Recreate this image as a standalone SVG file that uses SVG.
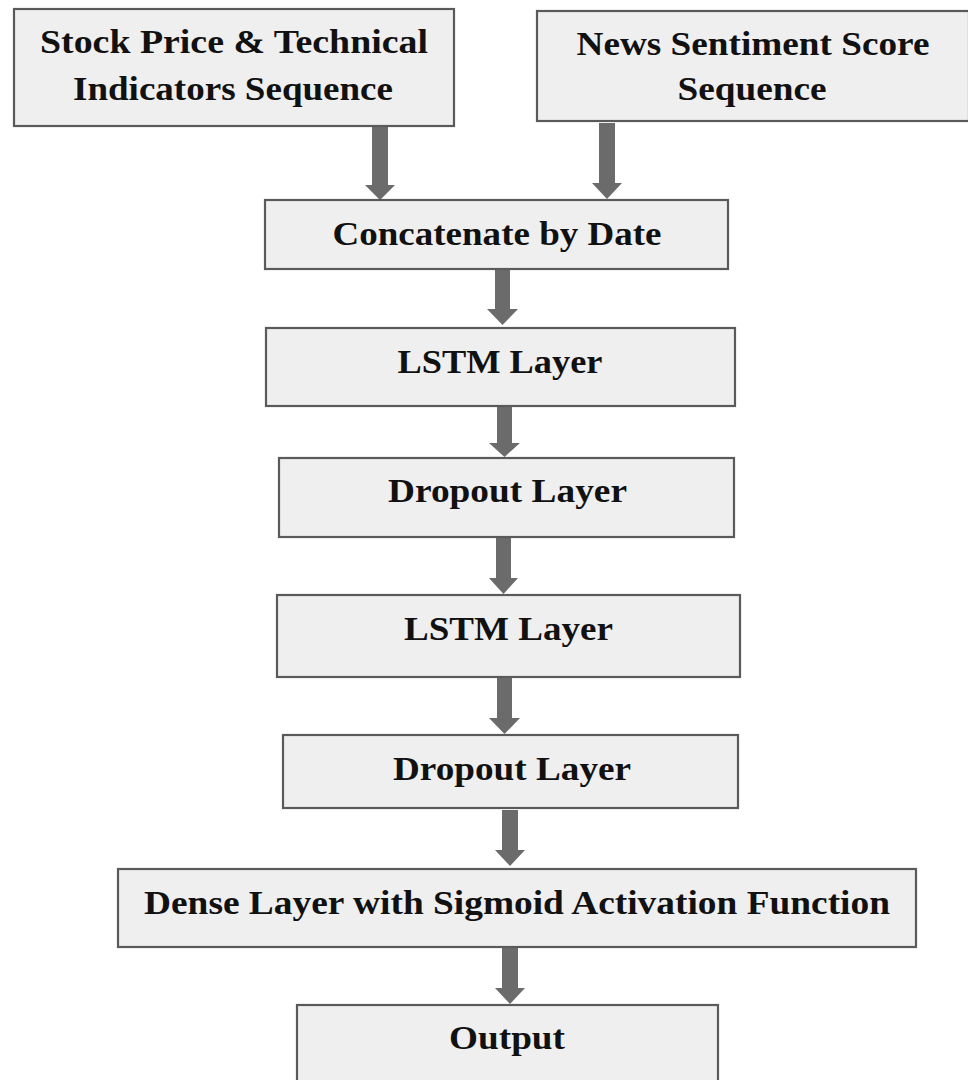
<svg xmlns="http://www.w3.org/2000/svg" width="968" height="1080" viewBox="0 0 968 1080">
<style>
.box{fill:#efefef;stroke:#5a5a5a;stroke-width:2.2}
.t{font-family:"Liberation Serif","Times New Roman",serif;font-weight:bold;font-size:34px;fill:#111;text-anchor:middle}
.arr{fill:#6b6b6b}
</style>
<rect width="968" height="1080" fill="#ffffff"/>
<g id="connectors">
<polygon class="arr" points="372,127 388,127 388,185 395,185 380,200 365,185 372,185"/>
<polygon class="arr" points="599,123 615,123 615,183 622,183 607,199 592,183 599,183"/>
<polygon class="arr" points="495,269 510,269 510,309 518,309 502.5,325 487,309 495,309"/>
<polygon class="arr" points="497,407 512,407 512,443 520,443 504.5,457 489,443 497,443"/>
<polygon class="arr" points="496,538 511,538 511,578 518,578 503.5,594 489,578 496,578"/>
<polygon class="arr" points="497,678 512,678 512,718 520,718 504.5,734 489,718 497,718"/>
<polygon class="arr" points="502,810 518,810 518,850 525,850 510,866 495,850 502,850"/>
<polygon class="arr" points="502,948 518,948 518,988 525,988 510,1004 495,988 502,988"/>
</g>
<g id="n_stock">
<rect class="box" x="14" y="9" width="440" height="117"/>
<text class="t" x="234" y="53" textLength="388" lengthAdjust="spacingAndGlyphs">Stock Price &amp; Technical</text>
<text class="t" x="233" y="100" textLength="320" lengthAdjust="spacingAndGlyphs">Indicators Sequence</text>
</g>
<g id="n_news">
<rect class="box" x="537" y="11" width="432" height="110"/>
<text class="t" x="753" y="55" textLength="353" lengthAdjust="spacingAndGlyphs">News Sentiment Score</text>
<text class="t" x="752" y="100" textLength="149" lengthAdjust="spacingAndGlyphs">Sequence</text>
</g>
<g id="n_concat">
<rect class="box" x="265" y="200" width="463" height="69"/>
<text class="t" x="497" y="245" textLength="329" lengthAdjust="spacingAndGlyphs">Concatenate by Date</text>
</g>
<g id="n_lstm1">
<rect class="box" x="266" y="328" width="469" height="78"/>
<text class="t" x="500" y="373" textLength="205" lengthAdjust="spacingAndGlyphs">LSTM Layer</text>
</g>
<g id="n_drop1">
<rect class="box" x="279" y="458" width="455" height="79"/>
<text class="t" x="507.5" y="502" textLength="239" lengthAdjust="spacingAndGlyphs">Dropout Layer</text>
</g>
<g id="n_lstm2">
<rect class="box" x="277" y="595" width="463" height="82"/>
<text class="t" x="508.5" y="640" textLength="209" lengthAdjust="spacingAndGlyphs">LSTM Layer</text>
</g>
<g id="n_drop2">
<rect class="box" x="283" y="735" width="455" height="73"/>
<text class="t" x="512" y="780" textLength="238" lengthAdjust="spacingAndGlyphs">Dropout Layer</text>
</g>
<g id="n_dense">
<rect class="box" x="118" y="869" width="798" height="78"/>
<text class="t" x="517" y="914" textLength="746" lengthAdjust="spacingAndGlyphs">Dense Layer with Sigmoid Activation Function</text>
</g>
<g id="n_output">
<rect class="box" x="297" y="1005" width="421" height="90"/>
<text class="t" x="507" y="1049" textLength="116" lengthAdjust="spacingAndGlyphs">Output</text>
</g>
</svg>
